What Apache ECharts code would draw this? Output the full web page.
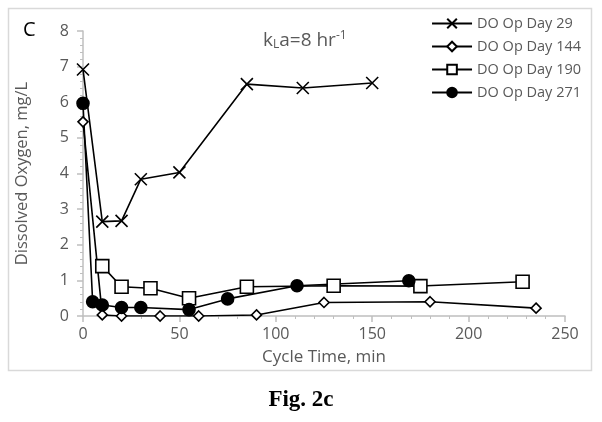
<!DOCTYPE html>
<html>
<head>
<meta charset="utf-8">
<script src="https://cdn.jsdelivr.net/npm/echarts@6/dist/echarts.min.js"></script>
<style>
  html, body { margin: 0; padding: 0; background: #fff; }
  #chart { width: 602px; height: 422px; }
</style>
</head>
<body>
<div id="chart"></div>
<script>
// 读图得到的数据 (cycle time min, DO mg/L)
const day29X = [0, 10, 20, 30, 50, 85, 114, 150];
const day29Y = [6.92, 2.65, 2.67, 3.84, 4.03, 6.51, 6.4, 6.54];

const day144X = [0, 10, 20, 40, 60, 90, 125, 180, 235];
const day144Y = [5.45, 0.03, 0.0, 0.0, 0.0, 0.03, 0.38, 0.4, 0.22];

const day190X = [10, 20, 35, 55, 85, 130, 175, 228];
const day190Y = [1.4, 0.82, 0.78, 0.5, 0.82, 0.85, 0.84, 0.96];

const day271X = [0, 5, 10, 20, 30, 55, 75, 111, 169];
const day271Y = [5.97, 0.4, 0.31, 0.24, 0.24, 0.18, 0.48, 0.85, 0.99];

const seriesNames = ['DO Op Day 29', 'DO Op Day 144', 'DO Op Day 190', 'DO Op Day 271'];

const pairs = (xs, ys) => xs.map((x, i) => [x, ys[i]]);

const gray = '#595959';
const axisGray = '#bfbfbf';
const font = 'Open Sans';

const myChart = echarts.init(document.getElementById('chart'));

// 每条线的公共样式
const lineSeries = (name, data, symbol, size, fill) => ({
  name,
  type: 'line',
  data,
  symbol,
  symbolSize: size,
  showSymbol: true,
  lineStyle: { color: '#000', width: 1.6 },
  itemStyle: { color: fill, borderColor: '#000', borderWidth: 1.6 },
  emphasis: { disabled: true },
  animation: false
});

const option = {
  backgroundColor: '#fff',
  animation: false,
  grid: { left: 83, right: 37, top: 31, bottom: 106 },
  legend: {
    orient: 'vertical',
    right: 16,
    top: 11,
    itemWidth: 40,
    itemHeight: 12,
    itemGap: 8,
    data: seriesNames,
    textStyle: { color: gray, fontFamily: font, fontSize: 14.5 }
  },
  title: {
    text: '{k|k}{sub|L}{k|a=8 hr}{sup|-1}',
    left: 258,
    top: 25,
    textStyle: {
      rich: {
        k: { fontFamily: font, fontSize: 19, color: gray, fontWeight: 'normal' },
        sub: { fontFamily: font, fontSize: 12, color: gray, fontWeight: 'normal', verticalAlign: 'bottom', padding: [9, 0, 0, 0] },
        sup: { fontFamily: font, fontSize: 12, color: gray, fontWeight: 'normal', verticalAlign: 'top', padding: [0, 0, 9, 0] }
      }
    }
  },
  xAxis: {
    type: 'value',
    min: 0,
    max: 250,
    interval: 50,
    name: 'Cycle Time, min',
    nameLocation: 'middle',
    nameGap: 33,
    nameTextStyle: { color: gray, fontFamily: font, fontSize: 17 },
    axisLine: { lineStyle: { color: axisGray, width: 1.5 } },
    axisTick: { show: true, length: 6, lineStyle: { color: axisGray, width: 1.5 } },
    minorTick: { show: true, splitNumber: 5, length: 3, lineStyle: { color: axisGray } },
    splitLine: { show: false },
    axisLabel: { color: gray, fontFamily: font, fontSize: 16, margin: 10 }
  },
  yAxis: {
    type: 'value',
    min: 0,
    max: 8,
    interval: 1,
    name: 'Dissolved Oxygen, mg/L',
    nameLocation: 'middle',
    nameGap: 52,
    nameTextStyle: { color: gray, fontFamily: font, fontSize: 16.5 },
    axisLine: { show: true, lineStyle: { color: axisGray, width: 1.5 } },
    axisTick: { show: true, length: 6, lineStyle: { color: axisGray, width: 1.5 } },
    minorTick: { show: true, splitNumber: 5, length: 3, lineStyle: { color: axisGray } },
    splitLine: { show: false },
    axisLabel: { color: gray, fontFamily: font, fontSize: 16, margin: 14 }
  },
  graphic: [
    {
      type: 'rect',
      shape: { x: 8.5, y: 8.5, width: 583, height: 362 },
      style: { fill: 'none', stroke: '#d9d9d9', lineWidth: 1.5 },
      silent: true
    },
    {
      type: 'text',
      left: 23,
      top: 20,
      style: { text: 'C', fill: '#000', font: '20px "Open Sans"' }
    },
    {
      type: 'text',
      left: 'center',
      top: 389,
      style: { text: 'Fig. 2c', fill: '#000', font: 'bold 23px "Liberation Serif"' }
    }
  ],
  series: [
    lineSeries(seriesNames[0], pairs(day29X, day29Y), 'path://M0,0L10,10M10,0L0,10', 12, 'none'),
    lineSeries(seriesNames[1], pairs(day144X, day144Y), 'diamond', 10, '#fff'),
    lineSeries(seriesNames[2], pairs(day190X, day190Y), 'rect', 13, '#fff'),
    lineSeries(seriesNames[3], pairs(day271X, day271Y), 'circle', 12, '#000')
  ]
};

myChart.setOption(option);
</script>
</body>
</html>
